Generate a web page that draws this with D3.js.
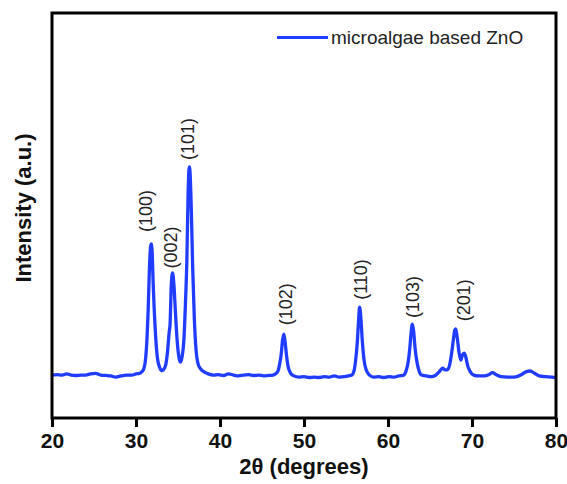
<!DOCTYPE html>
<html><head><meta charset="utf-8">
<script src="https://cdn.jsdelivr.net/npm/d3@7"></script>
<style>body{margin:0;background:#fff}svg{display:block}text{font-family:"Liberation Sans",Arial,sans-serif}</style>
</head><body><svg id="c" width="567" height="484"></svg>
<script>
const twoTheta = [20.0,20.6,21.2,21.75,22.3,22.8,23.4,24.0,24.6,25.2,25.8,26.4,27.0,27.6,28.2,28.9,29.5,30.0,30.4,30.7,30.95,31.15,31.3,31.45,31.6,31.72,31.81,31.92,32.05,32.17,32.35,32.55,32.8,33.05,33.25,33.5,33.75,33.95,34.05,34.2,34.35,34.5,34.65,34.8,35.0,35.15,35.3,35.5,35.7,35.9,36.05,36.2,36.3,36.36,36.45,36.6,36.75,36.95,37.15,37.4,37.7,38.1,38.6,39.2,39.8,40.4,41.0,41.6,42.2,42.8,43.4,44.0,44.6,45.2,45.8,46.3,46.6,46.9,47.1,47.28,47.45,47.6,47.75,47.91,48.1,48.4,48.8,49.4,50.0,50.6,51.2,51.8,52.4,53.0,53.6,54.2,54.8,55.3,55.7,55.95,56.15,56.35,56.5,56.62,56.75,56.95,57.15,57.4,57.8,58.3,58.9,59.5,60.1,60.7,61.3,61.8,62.15,62.4,62.6,62.75,62.9,63.05,63.22,63.45,63.7,64.0,64.5,65.1,65.7,66.1,66.5,66.8,67.05,67.3,67.55,67.78,67.95,68.07,68.22,68.45,68.67,68.87,69.07,69.25,69.5,69.8,70.2,70.8,71.5,72.0,72.45,72.9,73.5,74.2,75.0,75.8,76.4,76.94,77.4,78.0,78.8,79.5,80.0];
const intensity = [10.6,10.7,10.6,10.9,10.6,10.5,10.6,10.6,10.9,11.0,10.6,10.5,10.4,10.1,10.4,10.6,10.6,10.9,11.0,11.4,12.3,14.8,19.3,26.7,37.0,42.0,43.0,41.0,32.8,26.7,19.8,14.8,12.6,11.7,11.9,12.8,16.3,21.2,23.0,32.8,35.8,33.3,27.9,22.2,16.8,14.6,13.8,15.3,19.3,29.1,38.5,55.1,61.2,62.0,60.0,50.1,37.0,24.2,16.8,13.3,12.1,11.4,10.9,10.6,10.7,10.5,10.9,10.6,10.4,10.6,10.7,10.5,10.6,10.4,10.5,10.6,10.9,11.6,13.3,15.6,19.3,20.7,18.8,15.6,12.8,11.1,10.4,10.1,10.2,10.0,10.1,10.0,10.2,10.1,10.4,10.1,10.2,10.4,10.6,11.6,14.3,18.8,24.2,27.4,25.2,18.8,14.3,11.9,10.6,10.1,10.2,10.0,10.2,10.1,10.4,10.5,11.6,13.8,17.3,21.0,23.2,21.5,17.3,13.8,11.6,10.6,10.4,10.2,10.6,11.4,12.3,11.9,11.9,12.8,15.6,19.3,21.7,22.0,20.2,16.3,14.3,15.6,16.0,15.1,12.8,11.4,10.6,10.4,10.4,10.7,11.2,10.7,10.2,10.1,10.1,10.6,11.4,11.6,11.1,10.4,10.2,10.1,9.9];
const xTicks = [20,30,40,50,60,70,80];
const peakLabels = ["(100)","(002)","(101)","(102)","(110)","(103)","(201)"];
const peakLabelTheta = [31.15,34.08,36.2,47.8,56.74,62.9,69.0];
const peakLabelI = [51.1,42.1,68.9,28.1,34.2,29.9,29.1];
const seriesName = "microalgae based ZnO";

const svg = d3.select("#c");
const L=52,R=556,T=13,B=418;
const x = d3.scaleLinear().domain([20,80]).range([L,R]);
const y = d3.scaleLinear().domain([0,100]).range([B,T]);
const data = twoTheta.map((t,i)=>({t,v:intensity[i]}));

svg.append("path").datum(data)
  .attr("fill","none").attr("stroke","#1f3cff").attr("stroke-width",3.3)
  .attr("stroke-linejoin","round")
  .attr("d", d3.line().x(d=>x(d.t)).y(d=>y(d.v)).curve(d3.curveMonotoneX));

svg.append("rect").attr("x",L).attr("y",T).attr("width",R-L).attr("height",B-T)
  .attr("fill","none").attr("stroke","#000").attr("stroke-width",3);

const ax = svg.append("g").attr("transform",`translate(0,${B})`)
  .call(d3.axisBottom(x).tickValues(xTicks).tickSize(9).tickPadding(6).tickFormat(d3.format("d")));
ax.select(".domain").remove();
ax.selectAll(".tick line").attr("stroke","#000").attr("stroke-width",3);
ax.selectAll(".tick text").attr("font-size",21).attr("font-weight","bold").attr("fill","#111")
  .attr("font-family","'Liberation Sans',Arial,sans-serif");

svg.append("text").attr("x",(L+R)/2).attr("y",474).attr("text-anchor","middle")
  .attr("font-size",22).attr("font-weight","bold").attr("fill","#111").text("2θ (degrees)");
svg.append("text").attr("transform","translate(31,208) rotate(-90)").attr("text-anchor","middle")
  .attr("font-size",22).attr("font-weight","bold").attr("fill","#111").text("Intensity (a.u.)");

peakLabels.forEach((lab,i)=>{
  svg.append("text")
    .attr("transform",`translate(${x(peakLabelTheta[i])},${y(peakLabelI[i])}) rotate(-90)`)
    .attr("text-anchor","middle").attr("dy","0.35em")
    .attr("font-size",18).attr("fill","#222").text(lab);
});

svg.append("line").attr("x1",277).attr("x2",328).attr("y1",37.5).attr("y2",37.5)
  .attr("stroke","#1f3cff").attr("stroke-width",3);
svg.append("text").attr("x",331).attr("y",44).attr("font-size",19).attr("fill","#222").text(seriesName);
</script></body></html>
